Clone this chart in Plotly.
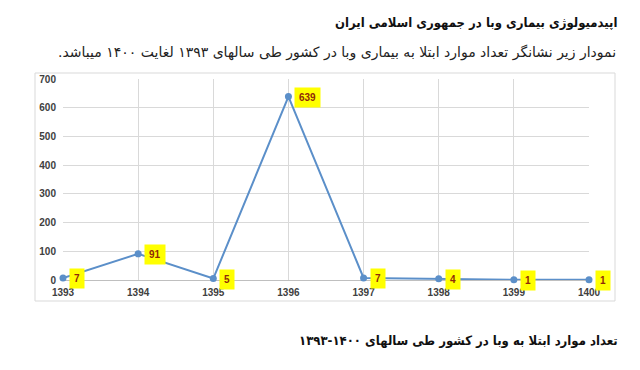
import plotly.graph_objects as go

years = [1393, 1394, 1395, 1396, 1397, 1398, 1399, 1400]
cases = [7, 91, 5, 639, 7, 4, 1, 1]
y_ticks = [0, 100, 200, 300, 400, 500, 600, 700]

title1 = "اپیدمیولوژی بیماری وبا در جمهوری اسلامی ایران"
title2 = "نمودار زیر نشانگر تعداد موارد ابتلا به بیماری وبا در کشور طی سالهای ۱۳۹۳ لغایت ۱۴۰۰ میباشد."
title3 = "تعداد موارد ابتلا به وبا در کشور طی سالهای ۱۴۰۰-۱۳۹۳"

RLM = "\u200f"
W, H = 640, 370
L, R, T, B = 63, 589, 79, 280  # plot area in pixels


def px(x):
    return (x - L) / (R - L)


def py(y):
    return (B - y) / (B - T)


fig = go.Figure()
fig.add_trace(go.Scatter(
    x=years, y=cases, mode="lines+markers",
    line=dict(color="#5b8fc9", width=2),
    marker=dict(color="#5b8fc9", size=7),
    cliponaxis=False, hoverinfo="skip", showlegend=False,
))

annotations = []
for xv, yv in zip(years, cases):
    annotations.append(dict(
        x=xv, y=yv, xref="x", yref="y", text=str(yv), showarrow=False,
        xanchor="left", yanchor="middle", xshift=6, yshift=-1,
        bgcolor="#ffff00", borderpad=4,
        font=dict(family="Liberation Sans, Arial", size=10, color="#8f2a08", weight="bold"),
    ))

bold_font = "DejaVu Sans Condensed, DejaVu Sans, sans-serif"
persian_font = "Tahoma, DejaVu Sans, sans-serif"
annotations += [
    dict(x=px(619), y=py(22), xref="paper", yref="paper", text=RLM + title1 + RLM,
         showarrow=False, xanchor="right", yanchor="middle",
         font=dict(family=bold_font, size=13, color="#111111", weight="bold")),
    dict(x=px(618), y=py(52), xref="paper", yref="paper", text=RLM + title2 + RLM,
         showarrow=False, xanchor="right", yanchor="middle",
         font=dict(family=persian_font, size=14, color="#222222")),
    dict(x=px(620), y=py(340), xref="paper", yref="paper", text=RLM + title3 + RLM,
         showarrow=False, xanchor="right", yanchor="middle",
         font=dict(family=bold_font, size=13, color="#111111", weight="bold")),
]

fig.add_shape(type="rect", xref="paper", yref="paper",
              x0=px(35), x1=px(615), y0=py(301), y1=py(73),
              line=dict(color="#d9d9d9", width=1), fillcolor="rgba(0,0,0,0)", layer="below")

fig.update_layout(
    width=W, height=H,
    margin=dict(l=L, r=W - R, t=T, b=H - B, pad=0),
    paper_bgcolor="white", plot_bgcolor="white",
    annotations=annotations,
    xaxis=dict(range=[1393, 1400], tickvals=years, ticktext=[str(y) for y in years],
               showgrid=True, gridcolor="#d9d9d9", gridwidth=1, zeroline=False,
               showline=False, ticks="", ticklen=0, ticklabelstandoff=5,
               tickfont=dict(family="Liberation Sans, Arial", size=10, color="#404040", weight="bold")),
    yaxis=dict(range=[0, 700], tickvals=y_ticks,
               showgrid=True, gridcolor="#d9d9d9", gridwidth=1, zeroline=True,
               zerolinecolor="#bfbfbf", zerolinewidth=1, showline=False, ticks="",
               ticklabelstandoff=6,
               tickfont=dict(family="Liberation Sans, Arial", size=10, color="#404040", weight="bold")),
)

fig.write_html("out.html")
